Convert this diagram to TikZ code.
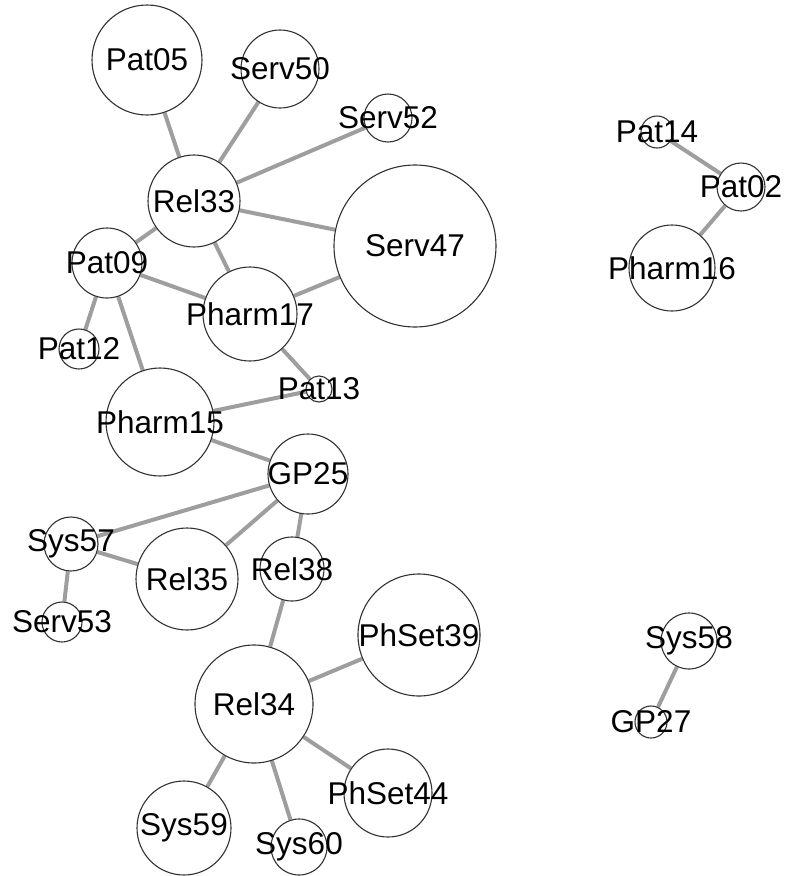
\documentclass[tikz,border=0pt]{standalone}
\usepackage{fontspec}
\setmainfont{Liberation Sans}
\usetikzlibrary{backgrounds}
\definecolor{edgegray}{RGB}{158,158,158}
\definecolor{rimgray}{RGB}{50,50,50}
\tikzset{
  vtx/.style={circle, draw=rimgray, line width=1.1pt, fill=white, inner sep=0pt, minimum size=#1},
  lbl/.style={inner sep=0pt, font=\fontsize{31.5}{32}\selectfont, text=black},
  edg/.style={draw=edgegray, line width=4pt}
}
\begin{document}
\begin{tikzpicture}[x=1pt,y=-1pt]
\useasboundingbox (0,0) rectangle (786,876);
% vertices
\node[vtx=110] (pat05) at (147,60) {};
\node[vtx=78] (serv50) at (280,69) {};
\node[vtx=48] (serv52) at (388,118) {};
\node[vtx=92] (rel33) at (194,201) {};
\node[vtx=162] (serv47) at (415,246) {};
\node[vtx=70] (pat09) at (107,263) {};
\node[vtx=94] (pharm17) at (250,314) {};
\node[vtx=40] (pat12) at (79,349) {};
\node[vtx=26] (pat13) at (319,389) {};
\node[vtx=108] (pharm15) at (160,422) {};
\node[vtx=80] (gp25) at (308,474) {};
\node[vtx=54] (sys57) at (71,544) {};
\node[vtx=102] (rel35) at (187,579) {};
\node[vtx=64] (rel38) at (292,569) {};
\node[vtx=40] (serv53) at (62,622) {};
\node[vtx=122] (phset39) at (419,635) {};
\node[vtx=118] (rel34) at (254,704) {};
\node[vtx=88] (phset44) at (388,793) {};
\node[vtx=94] (sys59) at (184,828) {};
\node[vtx=56] (sys60) at (299,847) {};
\node[vtx=32] (pat14) at (657,132) {};
\node[vtx=48] (pat02) at (741,187) {};
\node[vtx=86] (pharm16) at (672,268) {};
\node[vtx=56] (sys58) at (689,641) {};
\node[vtx=32] (gp27) at (651,722) {};
% edges
\begin{pgfonlayer}{background}
\path[edg] (pat05) -- (rel33);
\path[edg] (serv50) -- (rel33);
\path[edg] (serv52) -- (rel33);
\path[edg] (rel33) -- (serv47);
\path[edg] (rel33) -- (pat09);
\path[edg] (rel33) -- (pharm17);
\path[edg] (pat09) -- (pharm17);
\path[edg] (pharm17) -- (serv47);
\path[edg] (pat09) -- (pat12);
\path[edg] (pat09) -- (pharm15);
\path[edg] (pharm17) -- (pat13);
\path[edg] (pharm15) -- (pat13);
\path[edg] (pharm15) -- (gp25);
\path[edg] (gp25) -- (sys57);
\path[edg] (gp25) -- (rel35);
\path[edg] (gp25) -- (rel38);
\path[edg] (sys57) -- (rel35);
\path[edg] (sys57) -- (serv53);
\path[edg] (rel38) -- (rel34);
\path[edg] (rel34) -- (phset39);
\path[edg] (rel34) -- (phset44);
\path[edg] (rel34) -- (sys59);
\path[edg] (rel34) -- (sys60);
\path[edg] (pat14) -- (pat02);
\path[edg] (pat02) -- (pharm16);
\path[edg] (sys58) -- (gp27);
\end{pgfonlayer}
% labels
\node[lbl] (pat05l) at (pat05) {Pat05};
\node[lbl] (serv50l) at (serv50) {Serv50};
\node[lbl] (serv52l) at (serv52) {Serv52};
\node[lbl] (rel33l) at (rel33) {Rel33};
\node[lbl] (serv47l) at (serv47) {Serv47};
\node[lbl] (pat09l) at (pat09) {Pat09};
\node[lbl] (pharm17l) at (pharm17) {Pharm17};
\node[lbl] (pat12l) at (pat12) {Pat12};
\node[lbl] (pat13l) at (pat13) {Pat13};
\node[lbl] (pharm15l) at (pharm15) {Pharm15};
\node[lbl] (gp25l) at (gp25) {GP25};
\node[lbl] (sys57l) at (sys57) {Sys57};
\node[lbl] (rel35l) at (rel35) {Rel35};
\node[lbl] (rel38l) at (rel38) {Rel38};
\node[lbl] (serv53l) at (serv53) {Serv53};
\node[lbl] (phset39l) at (phset39) {PhSet39};
\node[lbl] (rel34l) at (rel34) {Rel34};
\node[lbl] (phset44l) at (phset44) {PhSet44};
\node[lbl] (sys59l) at (sys59) {Sys59};
\node[lbl] (sys60l) at (sys60) {Sys60};
\node[lbl] (pat14l) at (pat14) {Pat14};
\node[lbl] (pat02l) at (pat02) {Pat02};
\node[lbl] (pharm16l) at (pharm16) {Pharm16};
\node[lbl] (sys58l) at (sys58) {Sys58};
\node[lbl] (gp27l) at (gp27) {GP27};
\end{tikzpicture}
\end{document}
